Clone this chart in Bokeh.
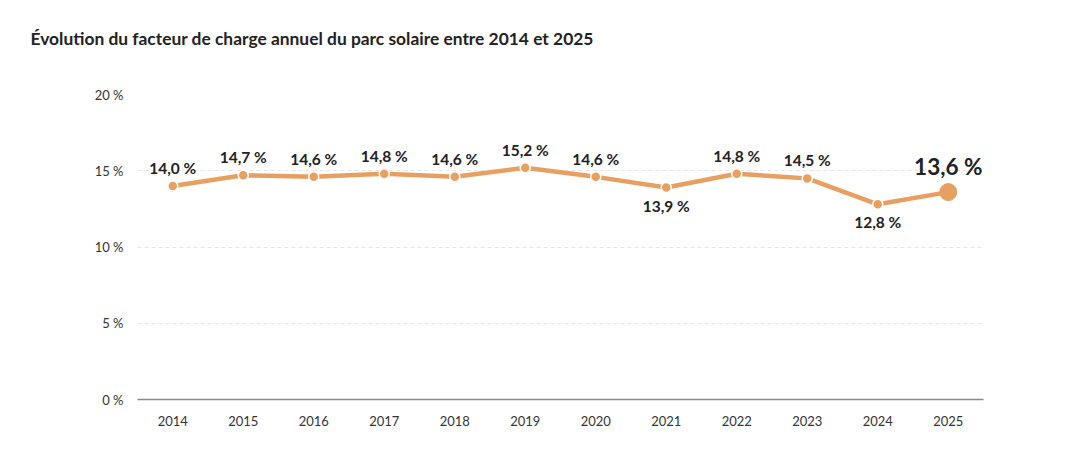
from bokeh.plotting import figure
from bokeh.models import ColumnDataSource, Range1d, FactorRange, Title
from bokeh.core.properties import value
from bokeh.embed import file_html
from bokeh.resources import INLINE

years = ["2014", "2015", "2016", "2017", "2018", "2019", "2020", "2021", "2022", "2023", "2024", "2025"]
values = [14.0, 14.7, 14.6, 14.8, 14.6, 15.2, 14.6, 13.9, 14.8, 14.5, 12.8, 13.6]
labels_below = ["2021", "2024"]
y_ticks = [0, 5, 10, 15, 20]
title_text = "Évolution du facteur de charge annuel du parc solaire entre 2014 et 2025"

COLOR = "#E8A060"
FONT = "Lato"

p = figure(width=1074, height=451, x_range=FactorRange(*years), y_range=Range1d(0, 20),
           output_backend="svg", toolbar_location=None,
           min_border_left=137, min_border_right=91, min_border_top=10, min_border_bottom=52)
p.outline_line_color = None
p.background_fill_color = "white"
p.title = None

spacer = Title(text=" ", text_font=FONT, text_font_size="32px", standoff=0)
p.add_layout(spacer, "above")
main_title = Title(text=title_text, text_font=FONT, text_font_size="17.4px", text_font_style="bold",
                   text_color="#222222", offset=-107, standoff=10)
p.add_layout(main_title, "above")
top_spacer = Title(text=" ", text_font=FONT, text_font_size="15.7px", standoff=0)
p.add_layout(top_spacer, "above")

p.xgrid.grid_line_color = None
p.ygrid.grid_line_color = "#e6e6e6"
p.ygrid.grid_line_dash = "4 3"
p.ygrid.grid_line_width = 1
p.ygrid.ticker = y_ticks

p.yaxis.ticker = y_ticks
p.yaxis.major_label_overrides = {t: f"{t} %" for t in y_ticks}
p.yaxis.axis_line_color = None
p.yaxis.major_tick_line_color = None
p.yaxis.minor_tick_line_color = None
p.yaxis.major_label_text_font = FONT
p.yaxis.major_label_text_font_size = "13px"
p.yaxis.major_label_text_color = "#333333"
p.yaxis.major_label_standoff = 8

p.xaxis.axis_line_color = "#8a8a8a"
p.xaxis.axis_line_width = 1.5
p.xaxis.major_tick_line_color = None
p.xaxis.minor_tick_line_color = None
p.xaxis.major_label_text_font = FONT
p.xaxis.major_label_text_font_size = "13px"
p.xaxis.major_label_text_color = "#333333"
p.xaxis.major_label_standoff = 10

src = ColumnDataSource(dict(x=years, y=values))
p.line("x", "y", source=src, line_color=COLOR, line_width=4.5)

small = ColumnDataSource(dict(x=years[:-1], y=values[:-1]))
p.scatter("x", "y", source=small, size=10, fill_color=COLOR, line_color="white", line_width=1.5)
last = ColumnDataSource(dict(x=years[-1:], y=values[-1:]))
p.scatter("x", "y", source=last, size=17, fill_color=COLOR, line_color=COLOR)

def fmt(v):
    return f"{v:.1f}".replace(".", ",") + " %"

above = [(x, v) for x, v in zip(years[:-1], values[:-1]) if x not in labels_below]
below = [(x, v) for x, v in zip(years[:-1], values[:-1]) if x in labels_below]

sa = ColumnDataSource(dict(x=[a[0] for a in above], y=[a[1] for a in above], t=[fmt(a[1]) for a in above]))
p.text("x", "y", text="t", source=sa, text_font=value(FONT), text_font_size="15.5px",
       text_font_style="bold", text_color="#222222", text_align="center", text_baseline="bottom", y_offset=-9)
sb = ColumnDataSource(dict(x=[a[0] for a in below], y=[a[1] for a in below], t=[fmt(a[1]) for a in below]))
p.text("x", "y", text="t", source=sb, text_font=value(FONT), text_font_size="15.5px",
       text_font_style="bold", text_color="#222222", text_align="center", text_baseline="top", y_offset=9)
sl = ColumnDataSource(dict(x=years[-1:], y=values[-1:], t=[fmt(values[-1])]))
p.text("x", "y", text="t", source=sl, text_font=value(FONT), text_font_size="22.5px",
       text_font_style="bold", text_color="#222222", text_align="center", text_baseline="bottom", y_offset=-12)

open("out.html", "w").write(file_html(p, INLINE))
